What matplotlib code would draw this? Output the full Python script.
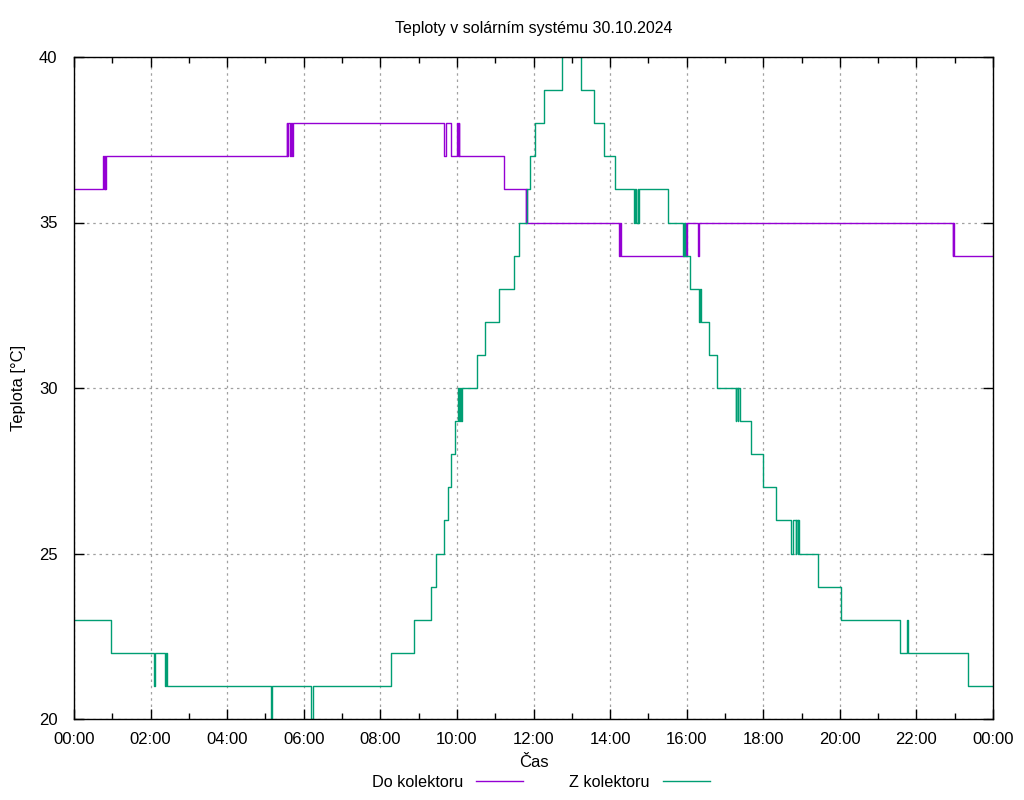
import numpy as np
import matplotlib.pyplot as plt
from matplotlib.ticker import MultipleLocator, FuncFormatter

# time in minutes of the day, temperature in degC (step data)
do_time = [0, 46, 47, 48, 49, 50, 333, 334, 336, 339, 340, 342, 343,
           580, 583, 591, 600, 601, 603, 604, 673, 708, 709, 710,
           854, 855, 857, 958, 959, 960, 978, 980, 1377, 1378, 1379, 1440]
do_temp = [36, 37, 36, 37, 36, 37, 38, 37, 38, 37, 38, 37, 38,
           37, 38, 37, 38, 37, 38, 37, 36, 35, 36, 35,
           34, 35, 34, 35, 34, 35, 34, 35, 34, 35, 34, 34]

z_time = [0, 58, 125, 127, 143, 144, 146, 309, 310, 311, 372, 373, 374,
          497, 533, 559, 567, 580, 586, 590, 597, 601, 603, 605, 606, 608,
          631, 644, 666, 690, 698, 710, 715, 722, 736, 764, 794, 815, 831,
          848, 878, 879, 881, 883, 884, 885, 930, 955, 956, 957, 966, 980,
          981, 983, 995, 1007, 1037, 1038, 1040, 1041, 1044, 1061, 1080,
          1100, 1124, 1126, 1131, 1132, 1134, 1135, 1136, 1166, 1202, 1295,
          1306, 1307, 1401, 1440]
z_temp = [23, 22, 21, 22, 21, 22, 21, 20, 19, 21, 20, 19, 21,
          22, 23, 24, 25, 26, 27, 28, 29, 30, 29, 30, 29, 30,
          31, 32, 33, 34, 35, 36, 37, 38, 39, 41, 39, 38, 37,
          36, 35, 36, 35, 36, 35, 36, 35, 34, 35, 34, 33, 32,
          33, 32, 31, 30, 29, 30, 29, 30, 29, 28, 27,
          26, 25, 26, 25, 26, 25, 26, 25, 24, 23, 22,
          23, 22, 21, 21]

plt.rcParams['font.family'] = ['Liberation Sans', 'DejaVu Sans']

fig = plt.figure(figsize=(10.24, 8), dpi=100)
ax = fig.add_axes([74/1024, 81/800, 919/1024, 662/800])

ax.step(do_time, do_temp, where='post', color='#9400D3', lw=1.0, label='Do kolektoru')
ax.step(z_time, z_temp, where='post', color='#009E73', lw=1.0, label='Z kolektoru')

ax.set_xlim(0, 1440)
ax.set_ylim(20, 40)
ax.xaxis.set_major_locator(MultipleLocator(120))
ax.xaxis.set_minor_locator(MultipleLocator(60))
ax.xaxis.set_major_formatter(FuncFormatter(lambda v, p: "%02d:%02d" % ((int(v) // 60) % 24, int(v) % 60)))
ax.yaxis.set_major_locator(MultipleLocator(5))

ax.tick_params(which='both', direction='in', top=True, right=True, labelsize=12)
ax.tick_params(axis='x', pad=9)
ax.tick_params(axis='y', pad=12)
ax.tick_params(which='major', length=7, width=1)
ax.tick_params(which='minor', length=4, width=1)
ax.grid(True, which='major', color='#a0a0a0', linestyle=(0, (2, 3)), lw=0.9)
for s in ax.spines.values():
    s.set_linewidth(1)

ax.set_title('Teploty v solárním systému 30.10.2024', fontsize=11.5, pad=17)
ax.set_xlabel('Čas', fontsize=12, labelpad=6)
ax.set_ylabel('Teplota [°C]', fontsize=12, labelpad=9)

ax.legend(loc='upper center', bbox_to_anchor=(0.508, -0.084), ncol=2, frameon=False,
          markerfirst=False, handlelength=2.9, columnspacing=2.85, fontsize=11.7,
          handletextpad=0.8, borderaxespad=0, borderpad=0)

fig.savefig('out.png', dpi=100)
